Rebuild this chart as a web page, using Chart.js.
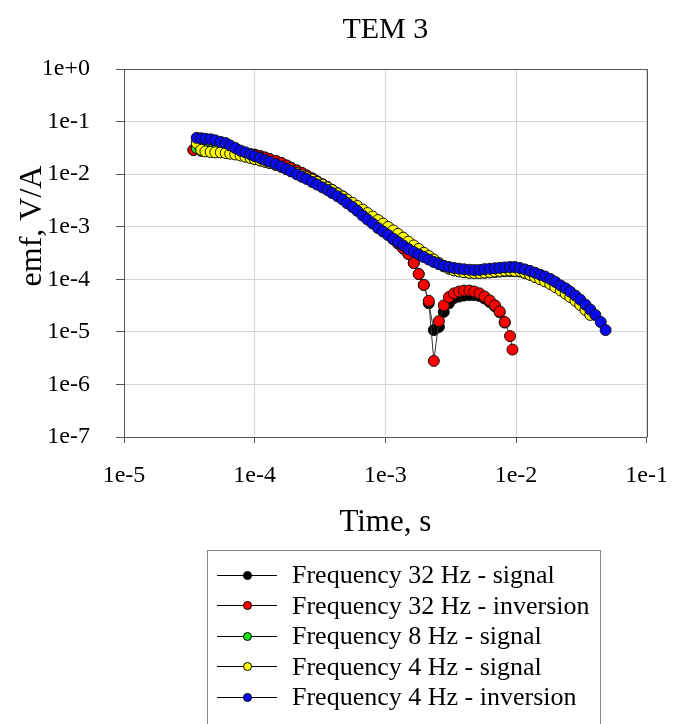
<!DOCTYPE html>
<html>
<head>
<meta charset="utf-8">
<script src="https://cdn.jsdelivr.net/npm/chart.js@4.4.0/dist/chart.umd.min.js"></script>
<style>
body{margin:0;background:#fff;}
#wrap{position:relative;width:686px;height:724px;overflow:hidden;background:#fff;}
#grafico{position:absolute;left:0;top:0;}
#legenda{position:absolute;left:207px;top:550px;width:394px;height:200px;border:1px solid #888;box-sizing:border-box;
  font-family:"Liberation Serif","Times New Roman",serif;font-size:26px;color:#000;padding-top:9px;}
.item{height:30.5px;display:flex;align-items:center;white-space:nowrap;}
.simbolo{position:relative;width:60px;height:1px;margin-left:9px;margin-right:15px;background:#000;}
.ponto{position:absolute;left:26px;top:-4px;width:7px;height:7px;border-radius:50%;border:1px solid #000;}
</style>
</head>
<body>
<div id="wrap">
  <canvas id="grafico" width="686" height="724"></canvas>
  <div id="legenda"></div>
</div>
<script>
(function(){

// eixos
const xTicks = [1e-5, 1e-4, 1e-3, 1e-2, 1e-1];
const xTickLabels = ['1e-5', '1e-4', '1e-3', '1e-2', '1e-1'];
const yTicks = [1e-7, 1e-6, 1e-5, 1e-4, 1e-3, 1e-2, 1e-1, 1e0];
const yTickLabels = ['1e-7', '1e-6', '1e-5', '1e-4', '1e-3', '1e-2', '1e-1', '1e+0'];

// tempos (s)
const t4Hz = [3.6e-5,3.9e-5,4.2e-5,4.6e-5,5.0e-5,5.5e-5,6.0e-5,6.5e-5,7.1e-5,7.8e-5,
  8.5e-5,9.3e-5,1.0e-4,1.1e-4,1.2e-4,1.3e-4,1.45e-4,1.6e-4,1.75e-4,1.9e-4,
  2.1e-4,2.3e-4,2.5e-4,2.75e-4,3.0e-4,3.3e-4,3.6e-4,3.9e-4,4.3e-4,4.7e-4,
  5.1e-4,5.6e-4,6.1e-4,6.7e-4,7.3e-4,8.0e-4,8.8e-4,9.6e-4,1.05e-3,1.15e-3,
  1.25e-3,1.37e-3,1.5e-3,1.65e-3,1.8e-3,1.97e-3,2.15e-3,2.35e-3,2.57e-3,2.8e-3,
  3.07e-3,3.35e-3,3.67e-3,4.0e-3,4.4e-3,4.8e-3,5.25e-3,5.75e-3,6.3e-3,6.9e-3,
  7.5e-3,8.2e-3,9.0e-3,9.8e-3,1.07e-2,1.17e-2,1.28e-2,1.4e-2,1.53e-2,1.67e-2,
  1.83e-2,2.0e-2,2.2e-2,2.4e-2,2.6e-2,2.85e-2,3.1e-2,3.4e-2,3.7e-2,4.05e-2,
  4.45e-2,4.85e-2];

const t32Hz = [3.4e-5,3.9e-5,4.2e-5,4.6e-5,5.0e-5,5.5e-5,6.0e-5,6.5e-5,7.1e-5,7.8e-5,
  8.5e-5,9.3e-5,1.0e-4,1.1e-4,1.2e-4,1.3e-4,1.45e-4,1.6e-4,1.75e-4,1.9e-4,
  2.1e-4,2.3e-4,2.5e-4,2.75e-4,3.0e-4,3.3e-4,3.6e-4,3.9e-4,4.3e-4,4.7e-4,
  5.1e-4,5.6e-4,6.1e-4,6.7e-4,7.3e-4,8.0e-4,8.8e-4,9.6e-4,1.05e-3,1.15e-3,
  1.25e-3,1.37e-3,1.5e-3,1.65e-3,1.8e-3,1.97e-3,2.15e-3,2.35e-3,2.57e-3,2.8e-3,
  3.07e-3,3.35e-3,3.67e-3,4.0e-3,4.4e-3,4.8e-3,5.25e-3,5.75e-3,6.3e-3,6.9e-3,
  7.5e-3,8.2e-3,9.0e-3,9.4e-3];

// emf (V/A)
const emf32Sinal = [2.88e-2,2.8e-2,2.75e-2,2.7e-2,2.66e-2,2.63e-2,2.6e-2,2.55e-2,2.5e-2,2.45e-2,
  2.4e-2,2.38e-2,2.34e-2,2.2e-2,2.07e-2,1.94e-2,1.78e-2,1.63e-2,1.46e-2,1.32e-2,
  1.17e-2,1.05e-2,9.4e-3,8.3e-3,7.3e-3,6.4e-3,5.7e-3,5.0e-3,4.3e-3,3.76e-3,
  3.2e-3,2.7e-3,2.27e-3,1.88e-3,1.56e-3,1.3e-3,1.05e-3,8.7e-4,7.1e-4,5.8e-4,
  4.8e-4,3.85e-4,3.03e-4,2.04e-4,1.26e-4,7.8e-5,3.5e-5,1.08e-5,1.24e-5,2.39e-5,
  3.5e-5,4.4e-5,4.7e-5,4.9e-5,5.0e-5,5.0e-5,4.8e-5,4.3e-5,3.7e-5,3.05e-5,
  2.35e-5,1.5e-5];

const emf32Inv = [2.88e-2,2.8e-2,2.75e-2,2.7e-2,2.66e-2,2.63e-2,2.6e-2,2.55e-2,2.5e-2,2.45e-2,
  2.4e-2,2.38e-2,2.34e-2,2.2e-2,2.07e-2,1.94e-2,1.78e-2,1.63e-2,1.46e-2,1.32e-2,
  1.17e-2,1.05e-2,9.4e-3,8.3e-3,7.3e-3,6.4e-3,5.7e-3,5.0e-3,4.3e-3,3.76e-3,
  3.2e-3,2.7e-3,2.27e-3,1.88e-3,1.56e-3,1.3e-3,1.05e-3,8.7e-4,7.1e-4,5.8e-4,
  4.8e-4,3.85e-4,3.03e-4,2.04e-4,1.26e-4,7.8e-5,3.9e-5,2.8e-6,1.6e-5,3.2e-5,
  4.6e-5,5.4e-5,5.85e-5,6.1e-5,6.1e-5,5.85e-5,5.4e-5,4.7e-5,3.95e-5,3.2e-5,
  2.44e-5,1.54e-5,8.3e-6,4.6e-6];

const emf8Sinal = [3.15e-2,2.95e-2,2.9e-2,2.84e-2,2.8e-2,2.74e-2,2.64e-2,2.52e-2,2.42e-2,2.3e-2,
  2.17e-2,2.05e-2,1.94e-2,1.83e-2,1.73e-2,1.63e-2,1.51e-2,1.38e-2,1.25e-2,1.14e-2,
  1.02e-2,9.2e-3,8.4e-3,7.5e-3,6.7e-3,5.95e-3,5.3e-3,4.7e-3,4.05e-3,3.5e-3,
  3.05e-3,2.6e-3,2.22e-3,1.86e-3,1.58e-3,1.34e-3,1.12e-3,9.6e-4,8.3e-4,7.1e-4,
  6.1e-4,5.2e-4,4.4e-4,3.8e-4,3.3e-4,2.88e-4,2.52e-4,2.2e-4,1.96e-4,1.76e-4,
  1.6e-4,1.49e-4,1.42e-4,1.37e-4,1.34e-4,1.32e-4,1.32e-4,1.33e-4,1.35e-4,1.38e-4,
  1.4e-4,1.42e-4,1.43e-4,1.42e-4,1.4e-4,1.31e-4,1.22e-4,1.13e-4,1.04e-4,9.6e-5,
  8.6e-5,7.6e-5,6.5e-5,5.7e-5,4.9e-5,4.2e-5,3.5e-5];

const emf4Sinal = [3.9e-2,2.9e-2,2.7e-2,2.64e-2,2.6e-2,2.6e-2,2.52e-2,2.45e-2,2.37e-2,2.26e-2,
  2.15e-2,2.03e-2,1.94e-2,1.82e-2,1.72e-2,1.63e-2,1.5e-2,1.38e-2,1.26e-2,1.16e-2,
  1.05e-2,9.5e-3,8.7e-3,7.9e-3,7.1e-3,6.3e-3,5.6e-3,5.0e-3,4.3e-3,3.76e-3,
  3.3e-3,2.85e-3,2.48e-3,2.12e-3,1.82e-3,1.56e-3,1.34e-3,1.15e-3,9.9e-4,8.5e-4,
  7.3e-4,6.2e-4,5.2e-4,4.4e-4,3.77e-4,3.2e-4,2.77e-4,2.38e-4,2.04e-4,1.79e-4,
  1.6e-4,1.48e-4,1.41e-4,1.36e-4,1.33e-4,1.32e-4,1.32e-4,1.34e-4,1.37e-4,1.41e-4,
  1.44e-4,1.47e-4,1.47e-4,1.44e-4,1.44e-4,1.33e-4,1.22e-4,1.1e-4,1.0e-4,9.1e-5,
  8.1e-5,7.1e-5,6.1e-5,5.3e-5,4.6e-5,3.9e-5,3.25e-5,2.6e-5,2.1e-5];

const emf4Inv = [4.9e-2,4.8e-2,4.7e-2,4.6e-2,4.4e-2,4.1e-2,3.9e-2,3.5e-2,3.15e-2,2.8e-2,
  2.6e-2,2.37e-2,2.2e-2,2.03e-2,1.86e-2,1.72e-2,1.56e-2,1.4e-2,1.25e-2,1.13e-2,
  9.9e-3,8.9e-3,8.1e-3,7.1e-3,6.35e-3,5.6e-3,5.0e-3,4.4e-3,3.8e-3,3.3e-3,
  2.8e-3,2.37e-3,2.0e-3,1.63e-3,1.37e-3,1.15e-3,9.4e-4,8.1e-4,6.95e-4,5.9e-4,
  5.1e-4,4.4e-4,3.77e-4,3.3e-4,2.96e-4,2.65e-4,2.37e-4,2.13e-4,1.95e-4,1.8e-4,
  1.71e-4,1.64e-4,1.59e-4,1.55e-4,1.52e-4,1.5e-4,1.51e-4,1.56e-4,1.59e-4,1.62e-4,
  1.65e-4,1.68e-4,1.71e-4,1.71e-4,1.64e-4,1.54e-4,1.44e-4,1.33e-4,1.22e-4,1.13e-4,
  1.01e-4,8.9e-5,7.6e-5,6.7e-5,5.8e-5,4.9e-5,4.1e-5,3.3e-5,2.66e-5,2.09e-5,
  1.54e-5,1.08e-5];

const series = [
  {nome:'Frequency 32 Hz - signal',    cor:'#000000', t:t32Hz, v:emf32Sinal, ordem:5},
  {nome:'Frequency 32 Hz - inversion', cor:'#ff0000', t:t32Hz, v:emf32Inv,   ordem:4},
  {nome:'Frequency 8 Hz - signal',     cor:'#19e619', t:t4Hz,  v:emf8Sinal,  ordem:3},
  {nome:'Frequency 4 Hz - signal',     cor:'#ffff00', t:t4Hz,  v:emf4Sinal,  ordem:2},
  {nome:'Frequency 4 Hz - inversion',  cor:'#0a0af0', t:t4Hz,  v:emf4Inv,    ordem:1}
];

const fonte = '"Liberation Serif","Times New Roman",serif';

function pontos(tempos, valores){
  return valores.map((v,i)=>({x:tempos[i], y:v}));
}

// moldura em cima e a direita + titulo do eixo y
const moldura = {
  id:'moldura',
  afterDatasetsDraw(chart){
    const {ctx, chartArea:a} = chart;
    ctx.save();
    ctx.strokeStyle = '#555';
    ctx.lineWidth = 1;
    ctx.beginPath();
    ctx.moveTo(Math.round(a.left)+0.5, Math.round(a.top)+0.5);
    ctx.lineTo(Math.round(a.right)+0.5, Math.round(a.top)+0.5);
    ctx.lineTo(Math.round(a.right)+0.5, Math.round(a.bottom)+0.5);
    ctx.stroke();

    // emf, V/A fica um pouco acima do centro
    ctx.translate(33, 226);
    ctx.rotate(-Math.PI/2);
    ctx.font = '32px ' + fonte;
    ctx.fillStyle = '#000';
    ctx.textAlign = 'center';
    ctx.textBaseline = 'middle';
    ctx.fillText('emf, V/A', 0, 0);
    ctx.restore();
  }
};

new Chart(document.getElementById('grafico'),{
  type:'scatter',
  data:{
    datasets: series.map(s=>({
      label:s.nome,
      data:pontos(s.t, s.v),
      order:s.ordem,
      showLine:true,
      borderColor:'#333',
      borderWidth:1,
      pointRadius:5.5,
      pointBorderWidth:1,
      pointBorderColor:'#111',
      pointBackgroundColor:s.cor,
      tension:0
    }))
  },
  options:{
    responsive:false,
    animation:false,
    events:[],
    layout:{padding:{left:0, right:36, top:0, bottom:183}},
    plugins:{
      legend:{display:false},
      tooltip:{enabled:false},
      title:{
        display:true, text:'TEM 3', fullSize:false, color:'#000',
        font:{family:fonte, size:30, weight:'normal'},
        padding:{top:12, bottom:21}
      }
    },
    scales:{
      x:{
        type:'logarithmic', min:1e-5, max:1e-1,
        afterBuildTicks:s=>{ s.ticks = xTicks.map(v=>({value:v})); },
        afterFit:s=>{ s.height = 104; },
        ticks:{callback:(v,i)=>xTickLabels[i], color:'#000', font:{family:fonte, size:24}, padding:18, maxRotation:0, autoSkip:false},
        grid:{color:'#d4d4d4', lineWidth:1, tickLength:6, tickColor:'#555'},
        border:{color:'#555', width:1},
        title:{display:true, text:'Time, s', color:'#000', font:{family:fonte, size:31}, padding:0}
      },
      y:{
        type:'logarithmic', min:1e-7, max:1,
        afterBuildTicks:s=>{ s.ticks = yTicks.map(v=>({value:v})); },
        afterFit:s=>{ s.width = 124; },
        ticks:{callback:(v,i)=>yTickLabels[i], color:'#000', font:{family:fonte, size:24}, padding:26, autoSkip:false},
        grid:{color:'#d4d4d4', lineWidth:1, tickLength:8, tickColor:'#555'},
        border:{color:'#555', width:1},
        title:{display:false}
      }
    }
  },
  plugins:[moldura]
});

// legenda em html
const leg = document.getElementById('legenda');
series.forEach(s=>{
  const item = document.createElement('div');
  item.className = 'item';
  item.innerHTML = '<span class="simbolo"><span class="ponto" style="background:'+s.cor+'"></span></span><span>'+s.nome+'</span>';
  leg.appendChild(item);
});

})();
</script>
</body>
</html>
